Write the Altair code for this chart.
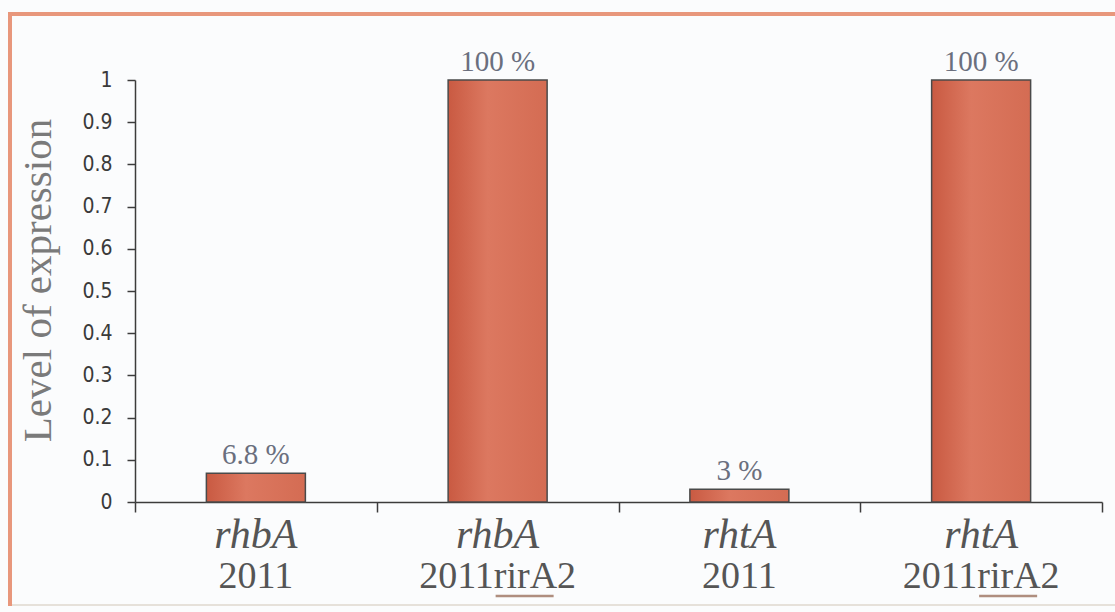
import altair as alt
import pandas as pd

# Expression levels of the two genes in the wild type (2011) and the rirA2 mutant
genes = ["rhbA", "rhbA", "rhtA", "rhtA"]
strains = ["2011", "2011rirA2", "2011", "2011rirA2"]
levels = [0.068, 1.0, 0.03, 1.0]
value_labels = ["6.8 %", "100 %", "3 %", "100 %"]
y_ticks = [0, 0.1, 0.2, 0.3, 0.4, 0.5, 0.6, 0.7, 0.8, 0.9, 1]

cats = [f"{g} {s}" for g, s in zip(genes, strains)]
df = pd.DataFrame({
    "cat": cats,
    "gene": genes,
    "strain": strains,
    "level": levels,
    "label": value_labels,
    "mutant": [s.endswith("rirA2") for s in strains],
})

W, H = 967, 422
AXIS = "#3c3c3c"
FRAME = "#e8977c"

bar_fill = alt.LinearGradient(
    gradient="linear",
    x1=0, x2=1, y1=0, y2=0,
    stops=[
        alt.GradientStop(color="#c95a42", offset=0),
        alt.GradientStop(color="#dc7860", offset=0.4),
        alt.GradientStop(color="#d46c53", offset=1),
    ],
)

x_enc = alt.X(
    "cat:N",
    sort=cats,
    scale=alt.Scale(paddingInner=0, paddingOuter=0),
    axis=alt.Axis(
        labels=False, title=None, tickBand="extent", tickSize=10,
        domainColor=AXIS, tickColor=AXIS, domainWidth=1.5, tickWidth=1.5,
    ),
)

base = alt.Chart(df)

bars = base.mark_bar(width=99, fill=bar_fill, stroke="#4a4a4a", strokeWidth=1.5).encode(
    x=x_enc,
    y=alt.Y(
        "level:Q",
        scale=alt.Scale(domain=[0, 1], nice=False),
        axis=alt.Axis(
            values=y_ticks, format=".1~f", grid=False,
            domainColor=AXIS, tickColor=AXIS, domainWidth=1.5, tickWidth=1.5,
            tickSize=8, labelPadding=15,
            labelFont="DejaVu Sans Condensed", labelFontSize=21, labelColor="#3a3a3a",
            title="Level of expression", titleFont="Liberation Serif",
            titleFontSize=41, titleFontWeight="normal", titleColor="#7a7a7a",
            titleX=-85, titleY=200, titleBaseline="alphabetic", titleAngle=-90,
        ),
    ),
)

values_txt = base.mark_text(
    font="Liberation Serif", fontSize=29, color="#6a6f7e", baseline="alphabetic", dy=-9
).encode(x=alt.X("cat:N", sort=cats), y="level:Q", text="label:N")

gene_txt = base.mark_text(
    font="Liberation Serif", fontStyle="italic", fontSize=42, color="#555555",
    baseline="alphabetic",
).encode(x=alt.X("cat:N", sort=cats), y=alt.value(468), text="gene:N")

strain_txt = base.mark_text(
    font="Liberation Serif", fontSize=38, color="#555555", baseline="alphabetic",
).encode(x=alt.X("cat:N", sort=cats), y=alt.value(508), text="strain:N")

underline = base.transform_filter("datum.mutant").mark_tick(
    orient="horizontal", size=58, thickness=2.5, xOffset=27, color="#8f5f48"
).encode(x=alt.X("cat:N", sort=cats), y=alt.value(516))

# Surrounding frame: orange left and top edges, faint bottom edge
frame_df = pd.DataFrame({"k": [0]})
frame = alt.Chart(frame_df)
top_edge = frame.mark_rule(color=FRAME, strokeWidth=4).encode(
    x=alt.value(-125), x2=alt.value(W + 20), y=alt.value(-66)
)
left_edge = frame.mark_rule(color=FRAME, strokeWidth=4).encode(
    x=alt.value(-125), y=alt.value(-68), y2=alt.value(526)
)
bottom_edge = frame.mark_rule(color="#e6e1da", strokeWidth=2).encode(
    x=alt.value(-123), x2=alt.value(W + 20), y=alt.value(525)
)

chart = alt.layer(
    top_edge, left_edge, bottom_edge, bars, values_txt, gene_txt, strain_txt, underline
).properties(
    width=W, height=H,
    autosize=alt.AutoSizeParams(type="none"),
    padding={"left": 135, "top": 80, "right": 13, "bottom": 110},
    background="#fbfcfd",
).configure_view(stroke=None)

chart.save("out.html", embed_options={"renderer": "svg", "actions": False})
